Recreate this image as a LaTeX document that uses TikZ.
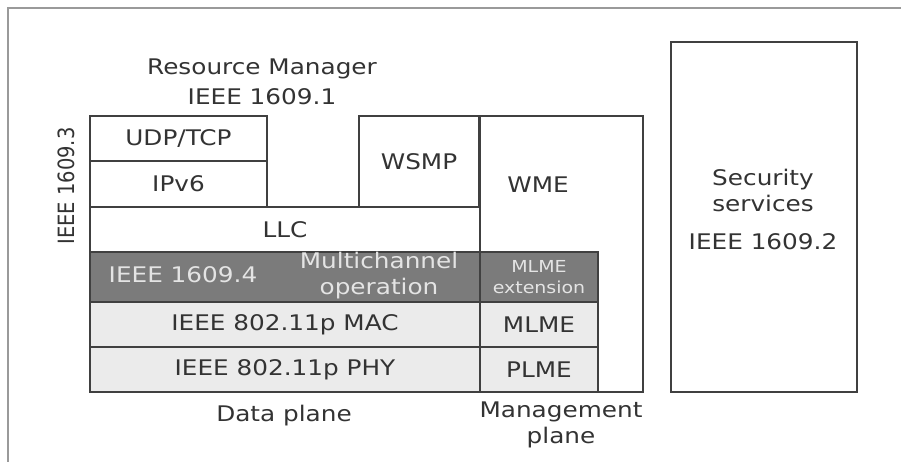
\documentclass[tikz,border=0pt]{standalone}
\usepackage{fontspec}
\setmainfont{DejaVu Sans}[FakeStretch=1.15]
\newfontfamily\vfont{DejaVu Sans}
\definecolor{lc}{HTML}{404040}
\definecolor{tc}{HTML}{333333}
\definecolor{dk}{HTML}{7B7B7B}
\definecolor{lt}{HTML}{EBEBEB}
\definecolor{ltx}{HTML}{E4E4E4}
\definecolor{fr}{HTML}{9A9A9A}
\begin{document}
\begin{tikzpicture}[x=1pt,y=-1pt,
  lay/.style={draw=lc, line width=1.8pt, inner sep=0pt, outer sep=0pt, anchor=north west, text=tc, font=\fontsize{21.5}{24}\selectfont},
  lbl/.style={inner sep=0pt, text=tc, align=center, font=\fontsize{21.5}{26}\selectfont},
  lbllt/.style={lbl, text=ltx}]
\useasboundingbox (0,0) rectangle (901,462);
\fill[white] (0,0) rectangle (901,462);
% outer frame (left and top only)
\coordinate (fa) at (8,462);
\coordinate (fb) at (8,8);
\coordinate (fc) at (901,8);
\draw[fr, line width=1.5pt] (fa) -- (fb) -- (fc);
% WME (background column)
\node[lay, fill=white, minimum width=163, minimum height=276] (wme) at (480,116) {};
\node[lbl] (wmet) at (538,185) {WME};
% upper stack
\node[lay, fill=white, minimum width=177, minimum height=45] (udp) at (90,116) {UDP/TCP};
\node[lay, fill=white, minimum width=177, minimum height=46] (ipv) at (90,161) {IPv6};
\node[lay, fill=white, minimum width=120, minimum height=91] (wsmp) at (359,116) {WSMP};
\node[lay, fill=white, minimum width=390, minimum height=45] (llc) at (90,207) {LLC};
% 1609.4
\node[lay, fill=dk, minimum width=390, minimum height=50] (mco) at (90,252) {};
\node[lbllt] (mcoa) at (183,275) {IEEE 1609.4};
\node[lbllt] (mcob) at (379,276) {Multichannel\\operation};
\node[lay, fill=dk, minimum width=118, minimum height=50, text=ltx, align=center,
      font=\fontsize{16.5}{21}\selectfont] (mlx) at (480,252) {MLME\\extension};
% lower stack
\node[lay, fill=lt, minimum width=390, minimum height=45] (mac) at (90,302) {IEEE 802.11p MAC};
\node[lay, fill=lt, minimum width=118, minimum height=45] (mlme) at (480,302) {MLME};
\node[lay, fill=lt, minimum width=390, minimum height=45] (phy) at (90,347) {IEEE 802.11p PHY};
\node[lay, fill=lt, minimum width=118, minimum height=45] (plme) at (480,347) {PLME};
% security
\node[lay, fill=white, minimum width=186, minimum height=350] (sec) at (671,42) {};
\node[lbl] (sect) at (763,190) {Security\\services};
\node[lbl] (secn) at (763,242) {IEEE 1609.2};
% free labels
\node[lbl, font=\fontsize{21.5}{30}\selectfont] (rm) at (262,82) {Resource Manager\\IEEE 1609.1};
\node[inner sep=0pt, text=tc, rotate=90] (n3) at (66,186) {\scalebox{1}[1.15]{\vfont\fontsize{19.5}{22}\selectfont IEEE 1609.3}};
\node[lbl] (dp) at (284,416) {Data plane};
\node[lbl] (mp) at (561,425) {Management\\plane};
\end{tikzpicture}
\end{document}
